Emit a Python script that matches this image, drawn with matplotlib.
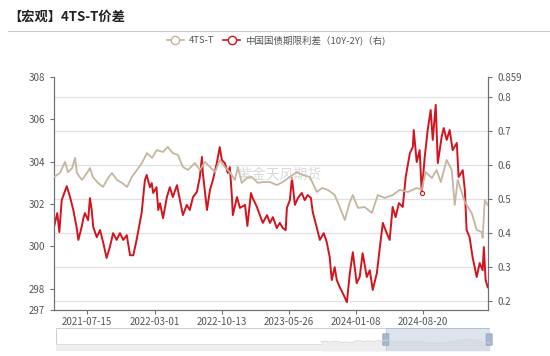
import matplotlib.pyplot as plt
import pandas as pd
from matplotlib.lines import Line2D
from matplotlib.patches import Rectangle, FancyBboxPatch

plt.rcParams['font.family'] = ['Noto Sans CJK SC', 'DejaVu Sans']

# 4TS-T 价差 (左轴)
ts_dates = [
    '2021-03-26', '2021-04-15', '2021-05-02', '2021-05-12', '2021-05-26', '2021-06-05',
    '2021-06-11', '2021-06-28', '2021-07-15', '2021-07-25', '2021-08-04', '2021-08-21',
    '2021-09-07', '2021-09-24', '2021-10-07', '2021-10-24', '2021-11-10', '2021-11-27',
    '2021-12-13', '2021-12-30', '2022-01-16', '2022-02-02', '2022-02-19', '2022-03-07',
    '2022-03-28', '2022-04-13', '2022-04-30', '2022-05-17', '2022-06-03', '2022-06-20',
    '2022-07-13', '2022-07-30', '2022-08-16', '2022-09-02', '2022-09-19', '2022-10-05',
    '2022-10-22', '2022-11-08', '2022-11-25', '2022-12-05', '2022-12-18', '2023-01-04',
    '2023-01-21', '2023-02-10', '2023-02-27', '2023-03-23', '2023-04-15', '2023-05-05',
    '2023-05-29', '2023-06-21', '2023-07-12', '2023-08-04', '2023-08-28', '2023-09-14',
    '2023-10-04', '2023-10-27', '2023-11-13', '2023-11-30', '2023-12-17', '2023-12-27',
    '2024-01-13', '2024-02-05', '2024-02-29', '2024-03-20', '2024-04-12', '2024-05-09',
    '2024-06-02', '2024-06-29', '2024-07-29', '2024-08-15', '2024-08-28', '2024-09-18',
    '2024-10-04', '2024-10-18', '2024-11-07', '2024-11-24', '2024-12-04', '2024-12-14',
    '2025-01-07', '2025-01-30', '2025-02-16', '2025-03-05', '2025-03-08', '2025-03-15',
    '2025-03-25',
]
ts_values = [
    303.28, 303.47, 303.99, 303.51, 303.70, 304.18,
    303.47, 303.14, 303.47, 303.70, 303.28, 303.00,
    302.81, 303.23, 303.47, 303.14, 303.00, 302.81,
    303.28, 303.61, 303.94, 304.41, 304.18, 304.55,
    304.46, 304.70, 304.41, 304.32, 303.75, 303.61,
    303.94, 303.61, 303.99, 303.75, 303.51, 304.08,
    303.75, 303.51, 303.14, 303.75, 303.00, 303.23,
    303.28, 303.00, 303.04, 303.04, 302.90, 303.04,
    303.28, 303.51, 303.37, 303.28, 302.57, 302.76,
    302.67, 302.43, 301.86, 301.25, 302.10, 302.43,
    301.82, 301.86, 301.58, 302.43, 302.29, 302.43,
    302.67, 302.57, 302.76, 302.67, 303.51, 303.23,
    303.61, 303.04, 304.08, 303.61, 301.96, 303.14,
    302.10, 301.58, 300.78, 300.68, 300.40, 302.19,
    301.96,
]

# 中国国债期限利差（10Y-2Y）(右轴)
spread_dates = [
    '2021-03-26', '2021-04-06', '2021-04-13', '2021-04-21', '2021-05-08', '2021-05-19',
    '2021-05-30', '2021-06-10', '2021-06-16', '2021-06-27', '2021-07-03', '2021-07-08',
    '2021-07-19', '2021-07-25', '2021-07-31', '2021-08-05', '2021-08-17', '2021-08-28',
    '2021-09-08', '2021-09-19', '2021-09-30', '2021-10-11', '2021-10-23', '2021-11-03',
    '2021-11-14', '2021-11-26', '2021-12-07', '2021-12-18', '2021-12-29', '2022-01-09',
    '2022-01-15', '2022-01-26', '2022-02-01', '2022-02-12', '2022-02-18', '2022-02-23',
    '2022-03-06', '2022-03-12', '2022-03-18', '2022-03-28', '2022-04-10', '2022-04-20',
    '2022-04-30', '2022-05-14', '2022-05-24', '2022-06-03', '2022-06-16', '2022-06-26',
    '2022-07-07', '2022-07-20', '2022-07-30', '2022-08-06', '2022-08-09', '2022-08-23',
    '2022-09-02', '2022-09-12', '2022-09-25', '2022-10-05', '2022-10-12', '2022-10-22',
    '2022-11-01', '2022-11-08', '2022-11-15', '2022-11-18', '2022-12-02', '2022-12-12',
    '2022-12-29', '2023-01-06', '2023-01-18', '2023-01-24', '2023-02-07', '2023-02-17',
    '2023-02-27', '2023-03-13', '2023-03-23', '2023-04-02', '2023-04-15', '2023-04-25',
    '2023-05-05', '2023-05-15', '2023-05-19', '2023-05-29', '2023-06-05', '2023-06-15',
    '2023-06-25', '2023-07-08', '2023-07-18', '2023-07-28', '2023-08-08', '2023-08-14',
    '2023-08-28', '2023-09-07', '2023-09-20', '2023-09-30', '2023-10-10', '2023-10-17',
    '2023-10-27', '2023-11-03', '2023-11-13', '2023-11-23', '2023-12-07', '2023-12-17',
    '2023-12-27', '2024-01-09', '2024-01-19', '2024-01-29', '2024-02-12', '2024-02-22',
    '2024-03-03', '2024-03-17', '2024-03-27', '2024-04-06', '2024-04-19', '2024-04-29',
    '2024-05-09', '2024-05-19', '2024-05-30', '2024-06-12', '2024-06-22', '2024-07-06',
    '2024-07-16', '2024-07-19', '2024-07-29', '2024-08-08', '2024-08-15', '2024-08-25',
    '2024-09-04', '2024-09-14', '2024-09-21', '2024-10-01', '2024-10-08', '2024-10-21',
    '2024-10-28', '2024-11-07', '2024-11-17', '2024-11-27', '2024-12-11', '2024-12-17',
    '2024-12-31', '2025-01-07', '2025-01-13', '2025-01-23', '2025-02-02', '2025-02-16',
    '2025-02-26', '2025-03-08', '2025-03-12', '2025-03-18', '2025-03-25',
]
spread_values = [
    0.418, 0.459, 0.403, 0.497, 0.538, 0.506,
    0.468, 0.418, 0.380, 0.418, 0.444, 0.459,
    0.438, 0.503, 0.468, 0.418, 0.388, 0.409,
    0.371, 0.327, 0.359, 0.400, 0.380, 0.400,
    0.380, 0.394, 0.335, 0.335, 0.380, 0.430,
    0.459, 0.556, 0.571, 0.535, 0.547, 0.518,
    0.535, 0.468, 0.488, 0.444, 0.506, 0.535,
    0.506, 0.541, 0.497, 0.453, 0.483, 0.468,
    0.506, 0.521, 0.565, 0.624, 0.577, 0.468,
    0.527, 0.556, 0.606, 0.653, 0.615, 0.606,
    0.577, 0.594, 0.506, 0.453, 0.506, 0.474,
    0.483, 0.421, 0.518, 0.503, 0.477, 0.453,
    0.430, 0.453, 0.430, 0.447, 0.415, 0.430,
    0.415, 0.409, 0.474, 0.497, 0.562, 0.483,
    0.503, 0.518, 0.497, 0.512, 0.503, 0.462,
    0.415, 0.380, 0.400, 0.374, 0.330, 0.262,
    0.300, 0.262, 0.241, 0.224, 0.197, 0.283,
    0.344, 0.253, 0.271, 0.341, 0.271, 0.291,
    0.233, 0.283, 0.359, 0.430, 0.400, 0.380,
    0.477, 0.447, 0.488, 0.477, 0.565, 0.635,
    0.653, 0.703, 0.609, 0.644, 0.518, 0.624,
    0.703, 0.762, 0.674, 0.777, 0.606, 0.683,
    0.709, 0.674, 0.703, 0.644, 0.665, 0.565,
    0.585, 0.527, 0.409, 0.388, 0.330, 0.271,
    0.312, 0.291, 0.359, 0.262, 0.241,
]
spread_marker_date = '2024-08-15'

left_ticks = [297, 298, 300, 302, 304, 306, 308]
right_ticks = [0.2, 0.3, 0.4, 0.5, 0.6, 0.7, 0.8, 0.859]
x_ticks = ['2021-07-15', '2022-03-01', '2022-10-13', '2023-05-26', '2024-01-08', '2024-08-20']

beige = '#c4b6a0'
red = '#d2141e'
axis_col = '#6e7079'
text_col = '#555555'

ts_x = pd.to_datetime(ts_dates)
sp_x = pd.to_datetime(spread_dates)

fig = plt.figure(figsize=(5.5, 3.56), dpi=100)
W, H = 550, 356

# title and separator
fig.text(8 / W, 1 - 17 / H, '【宏观】4TS-T价差', fontsize=9.5, fontweight='bold',
         color='#222222', va='center', ha='left')
fig.add_artist(Line2D([8 / W, 1], [1 - 31 / H, 1 - 31 / H], color='#cccccc', lw=0.8))

ax = fig.add_axes([54 / W, 1 - 310 / H, (488 - 54) / W, (310 - 77) / H])
ax2 = ax.twinx()

ax2.set_ylim(0.174, 0.859)
ax2.set_yticks(right_ticks)
ax2.set_yticklabels([str(t) for t in right_ticks])
for t in right_ticks[:-1]:
    ax2.axhline(t, color='#e0e0e0', lw=0.9, zorder=0)

ax.set_ylim(297, 308)
ax.set_yticks(left_ticks)
ax.set_xlim(pd.Timestamp('2021-03-26'), pd.Timestamp('2025-03-26'))
ax.set_xticks(pd.to_datetime(x_ticks))
ax.set_xticklabels(x_ticks)

ax.text(0.52, 0.58, '紫金天风期货', transform=ax.transAxes, fontsize=10,
        color='#d9d9d9', ha='center', va='center', zorder=0)

ax.plot(ts_x, ts_values, color=beige, lw=1.3, zorder=3)
ax2.plot(sp_x, spread_values, color=red, lw=1.4, zorder=4,
         marker='o', markersize=3, markerfacecolor='white', markeredgecolor=red,
         markeredgewidth=0.8, markevery=[spread_dates.index(spread_marker_date)])

ax.set_zorder(ax2.get_zorder() + 1)
ax.patch.set_visible(False)

for a in (ax, ax2):
    a.spines['top'].set_visible(False)
    for s in ('left', 'right', 'bottom'):
        a.spines[s].set_color(axis_col)
        a.spines[s].set_linewidth(0.8)
    a.tick_params(colors=axis_col, labelcolor=text_col, labelsize=7, length=3, width=0.8)
ax.tick_params(axis='x', pad=2)

# legend
handles = [
    Line2D([], [], color=beige, lw=1.2, marker='o', markersize=6,
           markerfacecolor='white', markeredgecolor=beige),
    Line2D([], [], color=red, lw=1.2, marker='o', markersize=6,
           markerfacecolor='white', markeredgecolor=red),
]
fig.legend(handles, ['4TS-T', '中国国债期限利差（10Y-2Y)（右)'], loc='center',
           bbox_to_anchor=(276 / W, 1 - 40 / H), ncol=2, frameon=False, fontsize=6.8,
           handlelength=1.8, columnspacing=1.0, handletextpad=0.5, labelcolor=text_col)

# data-zoom slider
sl = fig.add_axes([56 / W, 1 - 351 / H, (490 - 56) / W, 23 / H])
sl.set_xlim(0, 1)
sl.set_ylim(0, 1)
sl.axis('off')
sl.add_patch(Rectangle((0, 0), 1, 1, facecolor='white', edgecolor='#d0d0d0', lw=0.8))
sl.fill_between([0, 0.61], [0, 0], [0.32, 0.32], color='#eeeeee', lw=0)
sl.plot([0, 0.61], [0.32, 0.32], color='#dddddd', lw=0.6)
sh_x = [0.61 + 0.39 * i / (len(spread_values) - 1) for i in range(len(spread_values))]
sh_y = [0.25 + 0.35 * v for v in spread_values]
sl.fill_between(sh_x, 0, sh_y, color='#eeeeee', lw=0)
sl.plot(sh_x, sh_y, color='#d5d5d5', lw=0.6)
sl.add_patch(Rectangle((0.76, 0), 0.24, 1, facecolor='#c9d3e3', alpha=0.6,
                       edgecolor='#9eb0c8', lw=0.6))
for hx in (0.76, 0.998):
    sl.add_patch(FancyBboxPatch((hx - 0.007, 0.25), 0.014, 0.5,
                                boxstyle='round,pad=0,rounding_size=0.004',
                                facecolor='#a7b7cc', edgecolor='#8fa3bd', lw=0.5,
                                clip_on=False))

fig.savefig('out.png', dpi=100)
